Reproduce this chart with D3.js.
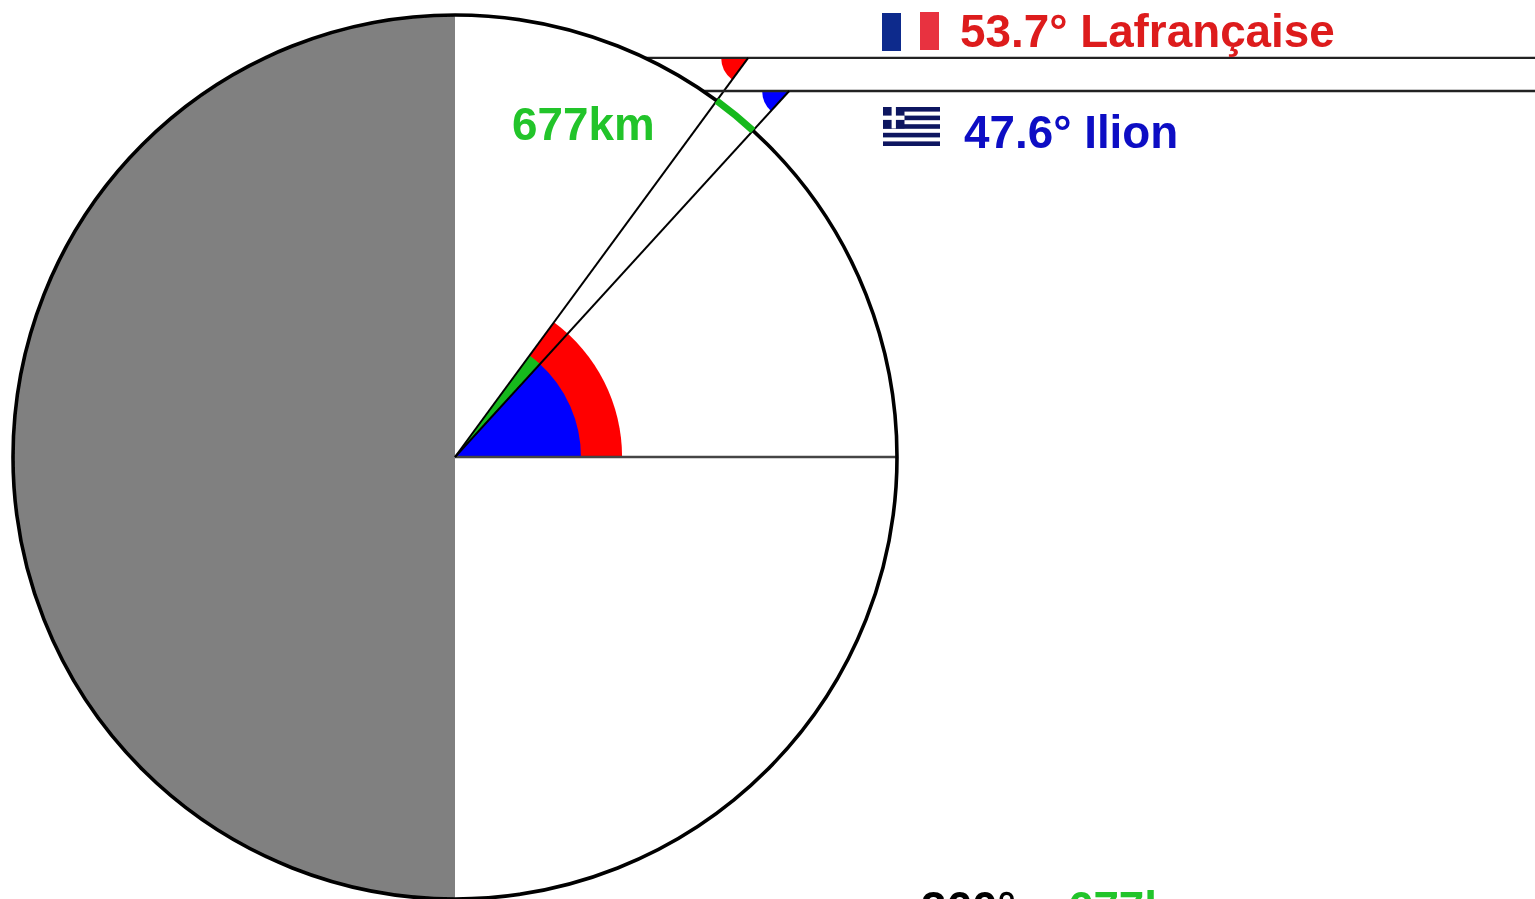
<!DOCTYPE html>
<html>
<head>
<meta charset="utf-8">
<title>Lafrançaise - Ilion</title>
<script src="https://cdnjs.cloudflare.com/ajax/libs/d3/7.8.5/d3.min.js"></script>
<style>
  html, body { margin: 0; padding: 0; background: #fff; overflow: hidden; }
  text { font-family: "Liberation Sans", Arial, sans-serif; font-weight: bold; }
</style>
</head>
<body>
<div id="chart"></div>
<script>
// values
var places = ["Lafrançaise", "Ilion"];
var angles = [53.7, 47.6];                // degrees
var rayHeights = [0.903, 0.828];          // height of the sun rays, in earth radii
var wedgeRadii = [0.378, 0.285];          // in earth radii
var placeColors = ["#ff0000", "#0000ff"];
var labelColors = ["#dd1a1e", "#0a10c4"];
var distance = "677km";
var bottomLabel = ["360° ~ ", "677km"];

var width = 1535, height = 899;
var centre = {x: 455, y: 457};
var radius = 442;
var fontSize = 45.8;

var svg = d3.select("#chart").append("svg")
    .attr("width", width)
    .attr("height", height);

// slight softening, the source picture is a scaled up jpeg
svg.append("defs").append("filter")
    .attr("id", "soft")
    .attr("filterUnits", "userSpaceOnUse")
    .attr("x", 0).attr("y", 0).attr("width", width).attr("height", height)
  .append("feGaussianBlur")
    .attr("stdDeviation", 0.7);

var g = svg.append("g").attr("filter", "url(#soft)");
var earth = g.append("g").attr("transform", "translate(" + centre.x + "," + centre.y + ")");

// earth radii -> pixels
var r = d3.scaleLinear().domain([0, 1]).range([0, radius]);
// latitude -> arc angle (0 rad is north for d3.arc)
var lat = d3.scaleLinear().domain([0, 90]).range([Math.PI / 2, 0]);
var rad = function(d) { return d * Math.PI / 180; };
var arc = d3.arc();

// night side
earth.append("path")
    .attr("d", arc({innerRadius: 0, outerRadius: r(1), startAngle: -Math.PI, endAngle: 0}))
    .attr("fill", "#808080");

// big wedges
earth.append("path")
    .attr("d", arc({innerRadius: 0, outerRadius: r(wedgeRadii[0]), startAngle: lat(angles[0]), endAngle: lat(0)}))
    .attr("fill", placeColors[0]);
earth.append("path")
    .attr("d", arc({innerRadius: 0, outerRadius: r(wedgeRadii[1]), startAngle: lat(angles[0]), endAngle: lat(angles[1])}))
    .attr("fill", "#19b91e");
earth.append("path")
    .attr("d", arc({innerRadius: 0, outerRadius: r(wedgeRadii[1]), startAngle: lat(angles[1]), endAngle: lat(0)}))
    .attr("fill", placeColors[1]);

// equator
earth.append("line")
    .attr("x2", r(1))
    .attr("stroke", "#444")
    .attr("stroke-width", 2.4);

// sun rays, the small wedges and the lines back to the centre
rayHeights.forEach(function(h, i) {
  var a = rad(angles[i]);
  var apexX = r(h) / Math.tan(a);
  var apexY = -r(h);
  var startX = Math.sqrt(r(1) * r(1) - r(h) * r(h));

  // the wedge sits between the ray (pointing left) and the line to the centre
  earth.append("path")
      .attr("transform", "translate(" + apexX + "," + apexY + ")")
      .attr("d", arc({innerRadius: 0, outerRadius: 27, startAngle: Math.PI * 1.5 - a, endAngle: Math.PI * 1.5}))
      .attr("fill", placeColors[i]);

  earth.append("line")
      .attr("x1", startX).attr("y1", apexY)
      .attr("x2", width - centre.x).attr("y2", apexY)
      .attr("stroke", "#222")
      .attr("stroke-width", 2.4);

  earth.append("line")
      .attr("x1", 0).attr("y1", 0)
      .attr("x2", apexX).attr("y2", apexY)
      .attr("stroke", "#000")
      .attr("stroke-width", 2);
});

// outline
earth.append("circle")
    .attr("r", r(1))
    .attr("fill", "none")
    .attr("stroke", "#000")
    .attr("stroke-width", 3.6);

// distance along the surface
earth.append("path")
    .attr("d", arc({innerRadius: r(1), outerRadius: r(1), startAngle: lat(angles[0]), endAngle: lat(angles[1])}))
    .attr("fill", "none")
    .attr("stroke", "#19b91e")
    .attr("stroke-width", 7);

// french flag
g.append("rect").attr("x", 882).attr("y", 13).attr("width", 19).attr("height", 38).attr("fill", "#0b2a8c");
g.append("rect").attr("x", 920).attr("y", 12).attr("width", 19).attr("height", 38).attr("fill", "#e8303f");

// greek flag
var greekFlag = g.append("g").attr("transform", "translate(883,107)");
d3.range(9).forEach(function(i) {
  if (i % 2 == 0) {
    greekFlag.append("rect").attr("y", i * 4.3).attr("width", 57).attr("height", 4.6).attr("fill", "#0e1660");
  }
});
greekFlag.append("rect").attr("width", 21.5).attr("height", 21.5).attr("fill", "#0e1660");
greekFlag.append("rect").attr("x", 8.6).attr("width", 4.3).attr("height", 21.5).attr("fill", "#fff");
greekFlag.append("rect").attr("y", 8.6).attr("width", 21.5).attr("height", 4.3).attr("fill", "#fff");

// labels
g.append("text").attr("x", 960).attr("y", 47).attr("font-size", fontSize).attr("fill", labelColors[0])
    .text(angles[0] + "° " + places[0]);
g.append("text").attr("x", 964).attr("y", 148).attr("font-size", fontSize).attr("fill", labelColors[1])
    .text(angles[1] + "° " + places[1]);
g.append("text").attr("x", 512).attr("y", 139.5).attr("font-size", fontSize).attr("fill", "#22c42a")
    .text(distance);

// runs off the bottom of the picture, as in the reference
var bottom = g.append("text").attr("x", 921).attr("y", 924).attr("font-size", fontSize);
bottom.append("tspan").attr("fill", "#000").text(bottomLabel[0]);
bottom.append("tspan").attr("fill", "#22c42a").text(bottomLabel[1]);
</script>
</body>
</html>
